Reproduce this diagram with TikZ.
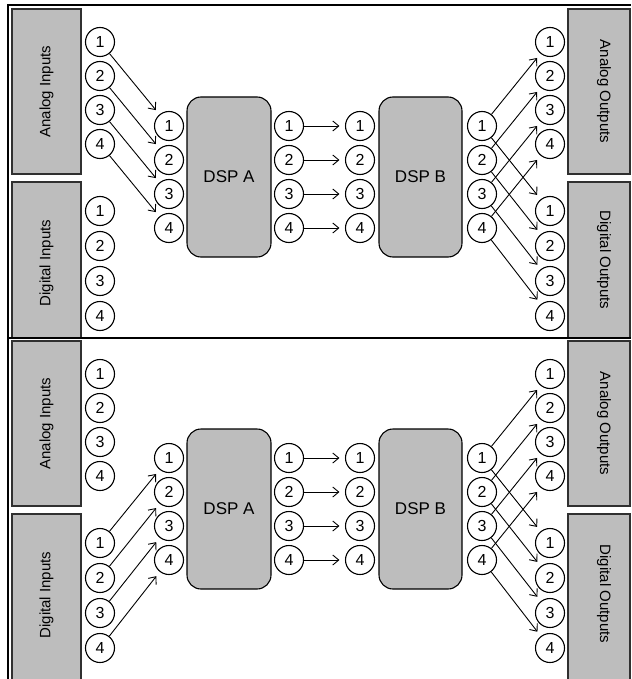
\documentclass[tikz,border=0pt]{standalone}
\usepackage{fontspec}
\setmainfont{Liberation Sans}
\usetikzlibrary{arrows.meta}
\definecolor{blockgray}{HTML}{BDBDBD}
\definecolor{edgegray}{HTML}{303030}
\begin{document}
\begin{tikzpicture}[x=1pt,y=-1pt,
  port/.style={circle,draw,line width=1.1pt,fill=white,minimum size=29pt,inner sep=0pt,font=\fontsize{16}{16}\selectfont},
  grayblock/.style={draw=edgegray,line width=1.4pt,fill=blockgray},
  dsp/.style={draw,line width=1.1pt,fill=blockgray,rounded corners=14pt,minimum height=160pt,inner sep=0pt,font=\fontsize{17}{17}\selectfont},
  sig/.style={line width=0.9pt,-{Straight Barb[length=6pt,width=10pt,line width=0.9pt]},shorten >=5.5pt},
  lbl/.style={font=\fontsize{15}{15}\selectfont},
  framel/.style={line width=1.5pt}]
\useasboundingbox (0,0) rectangle (631,679);
\begin{scope}
\clip (0,0) rectangle (631,679);
% gray blocks
\foreach \o in {0,332} {
  \draw[grayblock] (12,9+\o) rectangle (81,174+\o);
  \draw[grayblock] (568,9+\o) rectangle (630,174+\o);
}
\draw[grayblock] (12,182) rectangle (81,338);
\draw[grayblock] (568,182) rectangle (630,338);
\draw[grayblock] (12,514) rectangle (81,690);
\draw[grayblock] (568,514) rectangle (630,690);
% frame
\draw[framel] (8,679) -- (8,5) -- (631,5);
\draw[framel] (8,338) -- (631,338);
\end{scope}
% labels
\node[lbl,rotate=90] (tAIlab) at (46.5,91.5) {Analog Inputs};
\node[lbl,rotate=90] (tDIlab) at (46.5,263) {Digital Inputs};
\node[lbl,rotate=-90] (tAOlab) at (604,91.5) {Analog Outputs};
\node[lbl,rotate=-90] (tDOlab) at (604,260) {Digital Outputs};
\node[lbl,rotate=90] (bAIlab) at (46.5,423.5) {Analog Inputs};
\node[lbl,rotate=90] (bDIlab) at (46.5,595) {Digital Inputs};
\node[lbl,rotate=-90] (bAOlab) at (604,423.5) {Analog Outputs};
\node[lbl,rotate=-90] (bDOlab) at (604,594) {Digital Outputs};
\foreach \o/\p in {0/t,332/b} {
  \node[dsp,minimum width=84pt] (\p DSPA) at (229,177+\o) {DSP A};
  \node[dsp,minimum width=83pt] (\p DSPB) at (420.5,177+\o) {DSP B};
  \foreach \i/\ya/\yd/\yp in {1/42/211/126,2/76/246/160,3/110/281/194,4/144/316/228} {
    \node[port] (\p AI\i) at (100,\ya+\o) {\i};
    \node[port] (\p DI\i) at (100,\yd+\o) {\i};
    \node[port] (\p AO\i) at (550,\ya+\o) {\i};
    \node[port] (\p DO\i) at (550,\yd+\o) {\i};
    \node[port] (\p Ain\i) at (169,\yp+\o) {\i};
    \node[port] (\p Aout\i) at (289,\yp+\o) {\i};
    \node[port] (\p Bin\i) at (360,\yp+\o) {\i};
    \node[port] (\p Bout\i) at (482,\yp+\o) {\i};
  }
}
\foreach \p in {t,b} {
  \foreach \i in {1,...,4} {
    \draw[sig] (\p Aout\i) -- (\p Bin\i);
    \draw[sig] (\p Bout\i) -- (\p AO\i);
    \draw[sig] (\p Bout\i) -- (\p DO\i);
  }
}
\foreach \i in {1,...,4} {
  \draw[sig] (tAI\i) -- (tAin\i);
  \draw[sig] (bDI\i) -- (bAin\i);
}
\end{tikzpicture}
\end{document}
